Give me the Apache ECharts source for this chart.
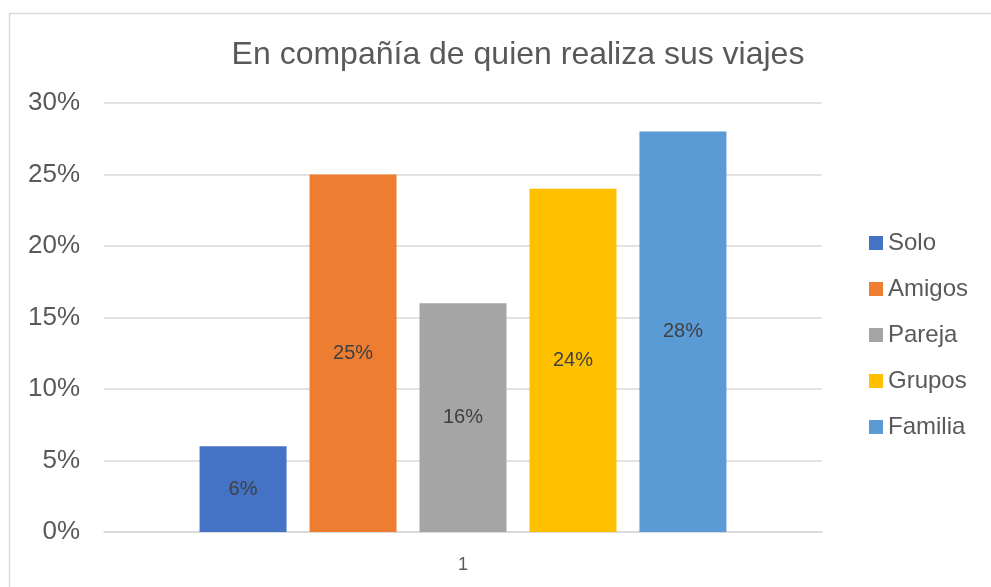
<!DOCTYPE html>
<html>
<head>
<meta charset="utf-8">
<script src="https://cdn.jsdelivr.net/npm/echarts@6/dist/echarts.min.js"></script>
<style>
    html, body { margin: 0; padding: 0; background: #fff; }
    #main { width: 991px; height: 587px; }
</style>
</head>
<body>
<div id="main"></div>
<script>
// datos del grafico
var categories = ['1'];
var seriesNames = ['Solo', 'Amigos', 'Pareja', 'Grupos', 'Familia'];
var seriesValues = [6, 25, 16, 24, 28];
var colors = ['#4472c4', '#ed7d31', '#a5a5a5', '#ffc000', '#5b9bd5'];
var yTicks = [0, 5, 10, 15, 20, 25, 30];

var chart = echarts.init(document.getElementById('main'));

var series = [];
seriesNames.forEach(function (name, i) {
    series.push({
        name: name,
        type: 'bar',
        data: [seriesValues[i]],
        barWidth: 87,
        barGap: '26.4%',
        itemStyle: { color: colors[i] },
        label: {
            show: true,
            position: 'inside',
            formatter: '{c}%',
            color: '#404040',
            fontSize: 20,
            fontFamily: 'Liberation Sans'
        }
    });
});

chart.setOption({
    animation: false,
    color: colors,
    textStyle: { fontFamily: 'Liberation Sans' },
    graphic: [{
        type: 'rect',
        shape: { x: 9.5, y: 13.5, width: 1000, height: 600 },
        style: { fill: 'none', stroke: '#d9d9d9', lineWidth: 1.5 },
        silent: true
    }],
    title: {
        text: 'En compañía de quien realiza sus viajes',
        left: 513,
        top: 34,
        textAlign: 'center',
        textStyle: {
            color: '#595959',
            fontSize: 32,
            fontWeight: 'normal',
            fontFamily: 'Liberation Sans'
        }
    },
    legend: {
        orient: 'vertical',
        left: 864,
        top: 226,
        itemWidth: 14,
        itemHeight: 14,
        itemGap: 22,
        icon: 'rect',
        textStyle: { color: '#595959', fontSize: 24, fontFamily: 'Liberation Sans' },
        data: seriesNames
    },
    grid: { left: 104, right: 169, top: 103, bottom: 55 },
    xAxis: {
        type: 'category',
        data: categories,
        axisLine: { lineStyle: { color: '#d9d9d9', width: 1.5 } },
        axisTick: { show: false },
        axisLabel: { color: '#595959', fontSize: 18, margin: 24 }
    },
    yAxis: {
        type: 'value',
        min: yTicks[0],
        max: yTicks[yTicks.length - 1],
        interval: 5,
        axisLine: { show: false },
        axisTick: { show: false },
        splitLine: { lineStyle: { color: '#d9d9d9', width: 1.5 } },
        axisLabel: { color: '#595959', fontSize: 26, margin: 24, formatter: '{value}%' }
    },
    series: series
});
</script>
</body>
</html>
